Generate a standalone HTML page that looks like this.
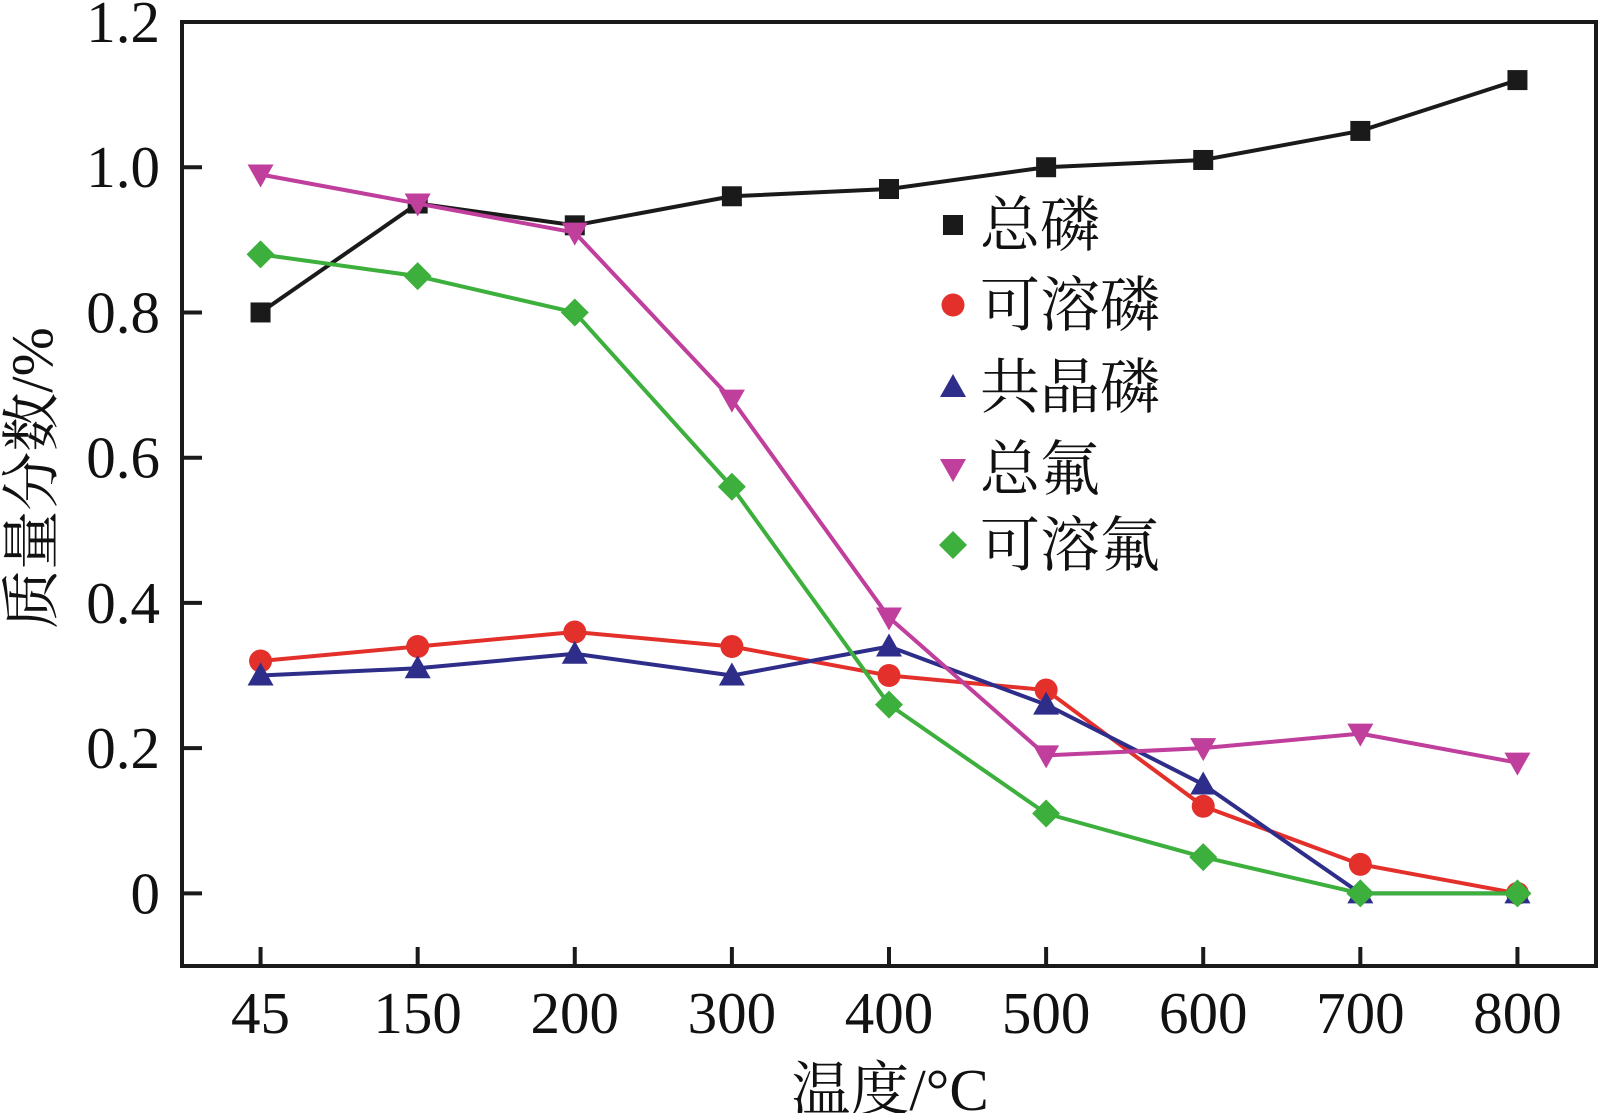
<!DOCTYPE html>
<html><head><meta charset="utf-8"><style>
html,body{margin:0;padding:0;background:#fff;}
svg{display:block;}
text{font-family:"Liberation Serif","Noto Serif CJK SC",serif;fill:#111;}
</style></head><body>
<svg id="chart" width="1603" height="1113" viewBox="0 0 1603 1113" xmlns="http://www.w3.org/2000/svg"></svg>
<script>
const categories = ["45","150","200","300","400","500","600","700","800"];
const yTicks = [0, 0.2, 0.4, 0.6, 0.8, 1.0, 1.2];
const yTickLabels = ["0","0.2","0.4","0.6","0.8","1.0","1.2"];
const totalP = [0.80,0.95,0.92,0.96,0.97,1.00,1.01,1.05,1.12];
const solubleP = [0.32,0.34,0.36,0.34,0.30,0.28,0.12,0.04,0.00];
const eutecticP = [0.30,0.31,0.33,0.30,0.34,0.26,0.15,0.00,0.00];
const totalF = [0.99,0.95,0.91,0.68,0.38,0.19,0.20,0.22,0.18];
const solubleF = [0.88,0.85,0.80,0.56,0.26,0.11,0.05,0.00,0.00];
const seriesNames = ["总磷","可溶磷","共晶磷","总氟","可溶氟"];

const svg = document.getElementById('chart');
const NS = "http://www.w3.org/2000/svg";
const L=182, R=1596, T=22, B=966;
const yMin=-0.1, yMax=1.2;
const xStep=(R-L)/categories.length;
function xPos(i){return L + xStep*(i+0.5);}
function yPos(v){return B - (v-yMin)/(yMax-yMin)*(B-T);}
function mk(tag, attrs){const e=document.createElementNS(NS,tag);for(const k in attrs)e.setAttribute(k,attrs[k]);svg.appendChild(e);return e;}

const frame = mk('rect',{x:L,y:T,width:R-L,height:B-T,fill:'none',stroke:'#1a1a1a','stroke-width':4});



yTicks.forEach((v,i)=>{
  const y=yPos(v);
  const t=mk('line',{x1:L,x2:L+20,y1:y,y2:y,stroke:'#1a1a1a','stroke-width':4});
  
  
  const lb=mk('text',{x:160,y:y+20,'text-anchor':'end','font-size':59});
  lb.textContent=yTickLabels[i];
  
  
});
categories.forEach((c,i)=>{
  const x=xPos(i);
  const t=mk('line',{x1:x,x2:x,y1:B,y2:B-19,stroke:'#1a1a1a','stroke-width':4});
  
  
  const lb=mk('text',{x:x,y:1033,'text-anchor':'middle','font-size':59});
  lb.textContent=c;
  
  
});
const xt=mk('text',{x:890,y:1110,'text-anchor':'middle','font-size':59});
xt.textContent="温度/°C";


const yt=mk('text',{x:0,y:0,'text-anchor':'middle','font-size':59,transform:'translate(52,478) rotate(-90)'});
yt.textContent="质量分数/%";



function marker(shape,x,y,color){
  let e;
  if(shape==='square') e=mk('rect',{x:x-10,y:y-10,width:20,height:20,fill:color});
  else if(shape==='circle') e=mk('circle',{cx:x,cy:y,r:11.5,fill:color});
  else if(shape==='up') e=mk('polygon',{points:`${x},${y-13} ${x-13},${y+10} ${x+13},${y+10}`,fill:color});
  else if(shape==='down') e=mk('polygon',{points:`${x-13},${y-10} ${x+13},${y-10} ${x},${y+13}`,fill:color});
  else e=mk('polygon',{points:`${x},${y-14} ${x+14},${y} ${x},${y+14} ${x-14},${y}`,fill:color});
  return e;
}
const series=[
  {vals:totalP,color:'#1a1a1a',shape:'square',name:'total-phosphorus'},
  {vals:solubleP,color:'#e3302b',shape:'circle',name:'soluble-phosphorus'},
  {vals:eutecticP,color:'#2e2d8a',shape:'up',name:'eutectic-phosphorus'},
  {vals:totalF,color:'#c03e9c',shape:'down',name:'total-fluorine'},
  {vals:solubleF,color:'#3caf3c',shape:'diamond',name:'soluble-fluorine'}
];
series.forEach(s=>{
  const pts=s.vals.map((v,i)=>xPos(i)+','+yPos(v)).join(' ');
  const pl=mk('polyline',{points:pts,fill:'none',stroke:s.color,'stroke-width':4,'stroke-linejoin':'round'});
  
  
  s.vals.forEach((v,i)=>{
    const m=marker(s.shape,xPos(i),yPos(v),s.color);
    
    
  });
});
const legY=[225,305,387,469,545];
series.forEach((s,i)=>{
  const m=marker(s.shape,953,legY[i],s.color);
  
  
  const t=mk('text',{x:980,y:legY[i]+21,'font-size':60});
  t.textContent=seriesNames[i];
  
  
});
</script>
</body></html>
